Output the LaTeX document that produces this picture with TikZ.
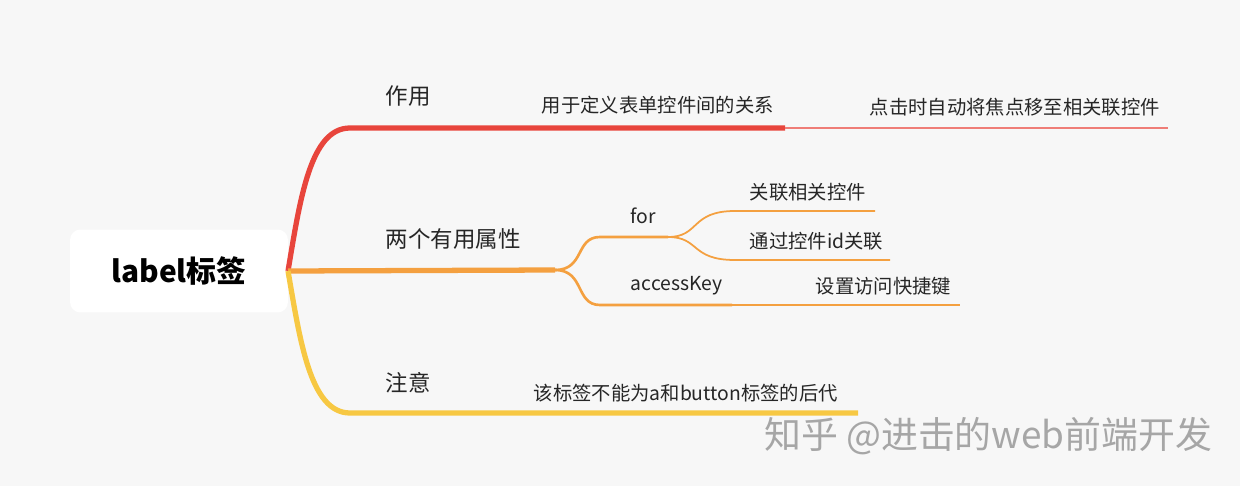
\documentclass[tikz,border=0pt]{standalone}
\usepackage{fontspec}
\setmainfont{Noto Sans CJK SC}
\usetikzlibrary{positioning}
\definecolor{bgc}{HTML}{F7F7F7}
\definecolor{redb}{HTML}{E8453C}
\definecolor{orab}{HTML}{F4A040}
\definecolor{yelb}{HTML}{F7C843}
\tikzset{
  txt/.style={anchor=south west, inner sep=2pt, font=\fontsize{11pt}{13pt}\selectfont, text=black!85},
  lbl/.style={anchor=south west, inner sep=2pt, font=\fontsize{12.8pt}{15pt}\selectfont, text=black!85},
}
\begin{document}
\begin{tikzpicture}[x=0.02cm, y=-0.02cm]
    \fill[bgc] (0,0) rectangle (1240,486);
    \useasboundingbox (0,0) rectangle (1240,486);
    % root
    \node[fill=white, rounded corners=6pt, minimum width=4.36cm, minimum height=1.66cm,
          font=\fontsize{17pt}{20pt}\selectfont\bfseries] (root) at (179,271) {label标签};
    \coordinate (r0) at (288,271);
    % branch: 作用
    \coordinate (a0) at (350,128);
    \coordinate (a1) at (785,128);
    \coordinate (a2) at (1168,128);
    \draw[redb, line width=3pt] (r0) .. controls (300,200) and (310,128) .. (a0) -- (a1);
    \draw[redb!70, line width=1pt] (a1) -- (a2);
    \node[lbl] (zy) at (382,110) {作用};
    \node[txt] (zy1) at (538,118) {用于定义表单控件间的关系};
    \node[txt] (zy2) at (866,120) {点击时自动将焦点移至相关联控件};
    % branch: 两个有用属性
    \coordinate (b0) at (555,270);
    \draw[orab, line width=3pt] (r0) -- (b0);
    \node[lbl] (sx) at (382,253) {两个有用属性};
    \coordinate (f0) at (600,237);
    \coordinate (f1) at (668,237);
    \coordinate (k0) at (600,305);
    \coordinate (k1) at (732,305);
    \draw[orab, line width=1.5pt] (b0) .. controls (585,270) and (575,237) .. (f0) -- (f1);
    \draw[orab, line width=1.5pt] (b0) .. controls (585,270) and (575,305) .. (k0) -- (k1);
    \node[txt] (for) at (627,228) {for};
    \node[txt] (ak) at (627,299) {accessKey};
    \draw[orab, line width=1pt] (f1) .. controls (700,237) and (690,211) .. (735,211) -- (875,211);
    \draw[orab, line width=1pt] (f1) .. controls (700,237) and (690,260) .. (735,260) -- (890,260);
    \draw[orab, line width=1pt] (k1) -- (960,305);
    \node[txt] (f1t) at (746,205) {关联相关控件};
    \node[txt] (f2t) at (746,254) {通过控件id关联};
    \node[txt] (k1t) at (812,299) {设置访问快捷键};
    % branch: 注意
    \coordinate (c0) at (350,413);
    \draw[yelb, line width=3pt] (r0) .. controls (300,340) and (310,413) .. (c0) -- (858,413);
    \node[lbl] (zyi) at (382,397) {注意};
    \node[txt] (zyi1) at (530,406) {该标签不能为a和button标签的后代};
    % watermark
    \node[anchor=west, font=\fontsize{21pt}{24pt}\selectfont, text=black!35] (wm) at (758,436) {知乎 @进击的web前端开发};
\end{tikzpicture}
\end{document}
